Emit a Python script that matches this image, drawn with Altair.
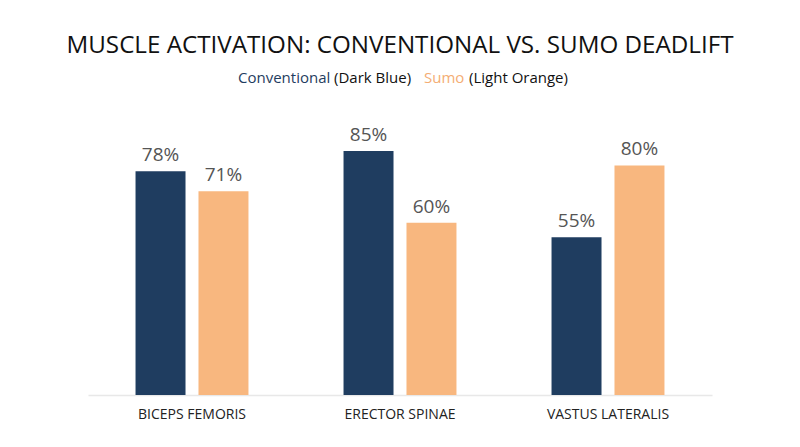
import altair as alt
import pandas as pd

muscles = ["BICEPS FEMORIS", "ERECTOR SPINAE", "VASTUS LATERALIS"]
conventional = [78, 85, 55]
sumo = [71, 60, 80]
series = ["Conventional", "Sumo"]
colors = ["#1f3d60", "#f8b77f"]
title_text = "MUSCLE ACTIVATION: CONVENTIONAL VS. SUMO DEADLIFT"

rows = []
for m, c, s in zip(muscles, conventional, sumo):
    rows.append({"muscle": m, "style": "Conventional", "value": c})
    rows.append({"muscle": m, "style": "Sumo", "value": s})
df = pd.DataFrame(rows)

FONT = "Open Sans"

x = alt.X("muscle:N", sort=muscles, title=None,
          scale=alt.Scale(paddingInner=0.457, paddingOuter=0.2285),
          axis=alt.Axis(labelAngle=0, domainColor="#e8e8e8", domainWidth=1.5, ticks=False,
                        labelPadding=12, labelFontSize=14, labelColor="#222",
                        labelFont=FONT, grid=False))
xo = alt.XOffset("style:N", sort=series, scale=alt.Scale(paddingInner=0.206, paddingOuter=0))
y = alt.Y("value:Q", scale=alt.Scale(domain=[0, 100]), axis=None)
color = alt.Color("style:N", scale=alt.Scale(domain=series, range=colors), legend=None)

base = alt.Chart(df).encode(x=x, xOffset=xo, y=y)
bars = base.mark_bar().encode(color=color)
labels = base.transform_calculate(label="datum.value + '%'").mark_text(
    dy=-10, baseline="alphabetic", fontSize=19, color="#555", font=FONT
).encode(text="label:N")

one = pd.DataFrame({"a": [0]})

def txt(t, px, py, size, col, align="left"):
    return alt.Chart(one).mark_text(text=t, align=align, baseline="middle",
                                    fontSize=size, color=col, font=FONT).encode(
        x=alt.value(px), y=alt.value(py))

title = txt(title_text, 312, -62, 24.2, "#111", align="center")
leg1 = txt("Conventional", 150, -30, 15, colors[0])
leg2 = txt("(Dark Blue)", 246, -30, 15, "#111")
leg3 = txt("Sumo", 336, -30, 15, "#f4ad74")
leg4 = txt("(Light Orange)", 381, -30, 15, "#111")

chart = alt.layer(bars, labels, title, leg1, leg2, leg3, leg4).properties(
    width=624, height=287,
    padding={"left": 80, "top": 100, "right": 80, "bottom": 44},
    autosize="none",
).configure_view(stroke=None)

chart.save("out.html", embed_options={"renderer": "svg", "actions": False})
